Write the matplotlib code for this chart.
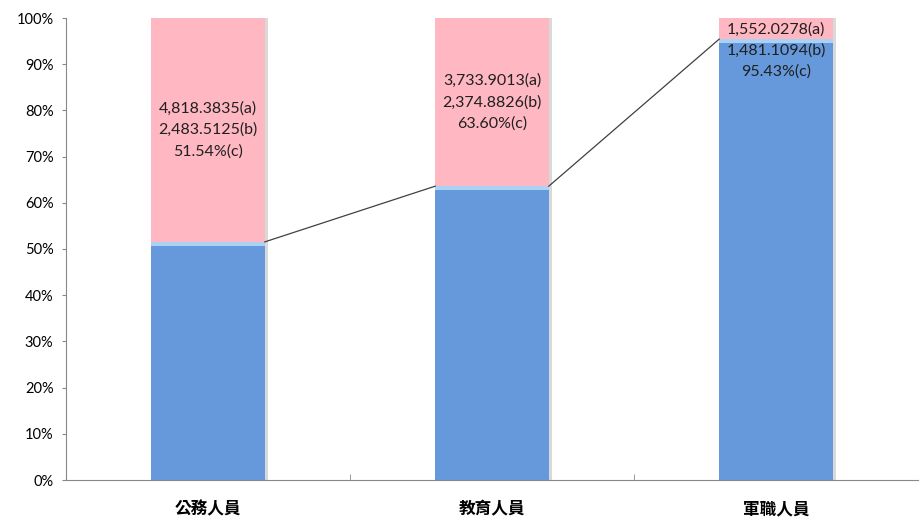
import numpy as np
import matplotlib
matplotlib.use("Agg")
import matplotlib.pyplot as plt
from matplotlib.ticker import PercentFormatter

categories = ["公務人員", "教育人員", "軍職人員"]
a_vals = [4818.3835, 3733.9013, 1552.0278]
b_vals = [2483.5125, 2374.8826, 1481.1094]
c_pct = [51.54, 63.60, 95.43]

plt.rcParams['font.family'] = ['Lato', 'DejaVu Sans']

fig = plt.figure(figsize=(9.23, 5.22), dpi=100)
ax = fig.add_axes([66 / 923, 42 / 522, 852 / 923, 462 / 522])

x = np.arange(len(categories))
w = 0.4
blue = "#6699dc"
pink = "#ffb7c2"
rest = [100 - c for c in c_pct]

# shadow on right edge
ax.bar(x + 0.012, 100, w, color="#d9d9d9", zorder=1)
ax.bar(x, c_pct, w, color=blue, zorder=2)
ax.bar(x, rest, w, bottom=c_pct, color=pink, zorder=2)
# light highlight at top of blue segment
ax.bar(x, 0.9, w, bottom=np.array(c_pct) - 0.9, color="#a9d2f5", zorder=3)

# connector lines between tops of blue segments
for i in range(len(x) - 1):
    ax.plot([x[i] + w / 2, x[i + 1] - w / 2], [c_pct[i], c_pct[i + 1]],
            color="#404040", lw=0.9, zorder=4)

for i in range(len(x)):
    txt = f"{a_vals[i]:,.4f}(a)\n{b_vals[i]:,.4f}(b)\n{c_pct[i]:.2f}%(c)"
    yc = min((c_pct[i] + 100) / 2, 93.0)
    ax.text(x[i], yc, txt, ha="center", va="center", fontsize=11.5,
            color="#202020", linespacing=1.6, zorder=5)

ax.set_xlim(-0.5, 2.5)
ax.set_ylim(0, 100)
ax.set_yticks(np.arange(0, 101, 10))
ax.yaxis.set_major_formatter(PercentFormatter(decimals=0))
ax.set_xticks(x)
ax.set_xticklabels(categories, family=['Noto Sans CJK TC'], fontweight="bold",
                   fontsize=12)
ax.set_xticks([0.5, 1.5], minor=True)
ax.tick_params(axis="x", which="major", length=0, pad=15)
ax.tick_params(axis="x", which="minor", length=4, direction="in", color="#888888")
ax.tick_params(axis="y", length=3, color="#888888", labelsize=10.5, pad=6)
for s in ["top", "right"]:
    ax.spines[s].set_visible(False)
for s in ["left", "bottom"]:
    ax.spines[s].set_color("#888888")

fig.savefig("out.png", dpi=100)
